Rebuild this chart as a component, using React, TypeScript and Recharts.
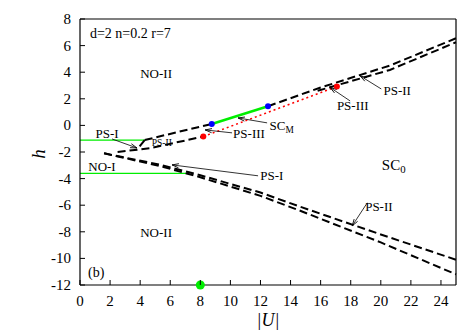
import React from 'react';
import { LineChart, Line, XAxis, YAxis, ReferenceDot, ReferenceLine } from 'recharts';

const FONT = 'Liberation Serif, Times New Roman, DejaVu Serif, serif';

// axis ticks
const xTicks = [0, 2, 4, 6, 8, 10, 12, 14, 16, 18, 20, 22, 24];
const yTicks = [-12, -10, -8, -6, -4, -2, 0, 2, 4, 6, 8];

// lower pair of boundaries
const lowerBoundaryA = [
  { x: 1.6, y: -2.1 }, { x: 5.3, y: -2.95 }, { x: 8, y: -3.75 }, { x: 12, y: -5.05 },
  { x: 14.6, y: -6.1 }, { x: 20, y: -8.2 }, { x: 25, y: -10.1 },
];
const lowerBoundaryB = [
  { x: 1.6, y: -2.1 }, { x: 5.3, y: -3.05 }, { x: 8, y: -3.9 }, { x: 12, y: -5.3 },
  { x: 14.6, y: -6.4 }, { x: 20, y: -8.8 }, { x: 25, y: -11.2 },
];

// upper pair of boundaries
const upperBoundaryA1 = [{ x: 4.3, y: -1.1 }, { x: 6.5, y: -0.5 }, { x: 8.76, y: 0.11 }];
const upperBoundaryA2 = [{ x: 12.5, y: 1.44 }, { x: 16, y: 2.85 }, { x: 20.6, y: 4.5 }, { x: 25, y: 6.55 }];
const upperBoundaryB1 = [{ x: 2.5, y: -2.0 }, { x: 4.66, y: -1.71 }, { x: 8.2, y: -0.84 }];
const upperBoundaryB2 = [{ x: 15.8, y: 2.6 }, { x: 20.6, y: 4.17 }, { x: 25, y: 6.25 }];
const upperConnector = [{ x: 4.3, y: -1.1 }, { x: 3.8, y: -1.8 }];

// SC_M segment (green) and PS-III line (red dotted)
const scmLine = [{ x: 8.76, y: 0.11 }, { x: 12.5, y: 1.44 }];
const ps3Line = [{ x: 8.2, y: -0.84 }, { x: 17.08, y: 2.92 }];

// horizontal green lines
const ps1Green = [{ x: 0, y: -1.1 }, { x: 4.3, y: -1.1 }];
const no1Green = [{ x: 0, y: -3.6 }, { x: 7.1, y: -3.6 }];

// marker on the axis
const axisMarker = { x: 8, y: -12 };

// text labels
const labels = [
  { text: 'd=2 n=0.2 r=7', x: 0.66, y: 6.6, anchor: 'start', size: 14 },
  { text: 'NO-II', x: 5.06, y: 3.57, anchor: 'middle', size: 13 },
  { text: 'NO-II', x: 5.06, y: -8.41, anchor: 'middle', size: 13 },
  { text: '(b)', x: 0.53, y: -11.38, anchor: 'start', size: 14 },
  { text: 'PS-I', x: 1.03, y: -0.98, anchor: 'start', size: 13 },
  { text: 'NO-I', x: 0.55, y: -3.45, anchor: 'start', size: 13 },
  { text: 'PS-II', x: 4.77, y: -1.58, anchor: 'start', size: 9.5 },
  { text: 'PS-I', x: 11.98, y: -4.09, anchor: 'start', size: 13 },
  { text: 'PS-III', x: 10.18, y: -0.98, anchor: 'start', size: 13 },
  { text: 'PS-III', x: 17.08, y: 1.16, anchor: 'start', size: 13 },
  { text: 'PS-II', x: 20.18, y: 2.29, anchor: 'start', size: 13 },
  { text: 'PS-II', x: 18.96, y: -6.47, anchor: 'start', size: 13 },
];
const subLabels = [
  { main: 'SC', sub: 'M', x: 12.6, y: -0.34, size: 13 },
  { main: 'SC', sub: '0', x: 20.07, y: -3.34, size: 15 },
];

// annotation arrows: from label to tip
const arrows = [
  { from: { x: 2.13, y: -1.02 }, to: { x: 3.79, y: -1.7 } },
  { from: { x: 11.84, y: -3.79 }, to: { x: 6.12, y: -2.97 } },
  { from: { x: 10.11, y: -0.56 }, to: { x: 8.32, y: -0.34 } },
  { from: { x: 12.44, y: 0.19 }, to: { x: 10.51, y: 0.56 } },
  { from: { x: 17.96, y: 1.84 }, to: { x: 16.63, y: 2.85 } },
  { from: { x: 20.03, y: 2.74 }, to: { x: 18.63, y: 3.72 } },
  { from: { x: 19.1, y: -5.82 }, to: { x: 18.1, y: -7.55 } },
];

const TICK_LEN = 5;
const textStyle = { fontFamily: FONT };

const BottomTick = (p: any) => (
  <g>
    <line x1={p.x} y1={p.y} x2={p.x} y2={p.y - TICK_LEN} stroke="#000" strokeWidth={1} />
    <text x={p.x} y={p.y + 21} textAnchor="middle" style={textStyle} fontSize={15} fill="#000">
      {p.payload.value}
    </text>
  </g>
);
const TopTick = (p: any) => (
  <line x1={p.x} y1={p.y} x2={p.x} y2={p.y + TICK_LEN} stroke="#000" strokeWidth={1} />
);
const LeftTick = (p: any) => (
  <g>
    <line x1={p.x} y1={p.y} x2={p.x + TICK_LEN} y2={p.y} stroke="#000" strokeWidth={1} />
    <text x={p.x - 9} y={p.y + 5} textAnchor="end" style={textStyle} fontSize={15} fill="#000">
      {p.payload.value}
    </text>
  </g>
);
const RightTick = (p: any) => (
  <line x1={p.x} y1={p.y} x2={p.x - TICK_LEN} y2={p.y} stroke="#000" strokeWidth={1} />
);

const ArrowShape = (p: any) => {
  const { x1, y1, x2, y2 } = p;
  const ang = Math.atan2(y2 - y1, x2 - x1);
  const L = 7;
  const a = 0.3;
  const ax1 = x2 - L * Math.cos(ang - a);
  const ay1 = y2 - L * Math.sin(ang - a);
  const ax2 = x2 - L * Math.cos(ang + a);
  const ay2 = y2 - L * Math.sin(ang + a);
  return (
    <g>
      <line x1={x1} y1={y1} x2={x2} y2={y2} stroke="#000" strokeWidth={0.8} />
      <polyline points={`${ax1},${ay1} ${x2},${y2} ${ax2},${ay2}`} fill="none" stroke="#000" strokeWidth={0.9} />
    </g>
  );
};

const dashStyle = { stroke: '#000', strokeWidth: 2, strokeDasharray: '8 4' };

export default function App() {
  return (
    <div style={{ position: 'absolute', left: 0, top: 0, background: '#fff' }}>
      <LineChart width={473} height={331} margin={{ top: 0, right: 0, bottom: 0, left: 0 }} style={textStyle}>
        <XAxis
          xAxisId={0}
          type="number"
          dataKey="x"
          domain={[0, 25]}
          ticks={xTicks}
          interval={0}
          height={46}
          tickSize={0}
          tickMargin={0}
          tickLine={false}
          tick={BottomTick}
          axisLine={{ stroke: '#000', strokeWidth: 1.2 }}
          label={{
            content: (lp: any) => {
              const vb = lp.viewBox || { x: 80, y: 285, width: 376, height: 46 };
              return (
                <text x={vb.x + vb.width / 2} y={vb.y + 41} textAnchor="middle" style={textStyle} fontStyle="italic" fontSize={18} fill="#000">
                  |U|
                </text>
              );
            },
          }}
        />
        <XAxis
          xAxisId="top"
          orientation="top"
          type="number"
          dataKey="x"
          domain={[0, 25]}
          ticks={xTicks}
          interval={0}
          height={19}
          tickSize={0}
          tickMargin={0}
          tickLine={false}
          tick={TopTick}
          axisLine={{ stroke: '#000', strokeWidth: 1.2 }}
        />
        <YAxis
          yAxisId={0}
          type="number"
          domain={[-12, 8]}
          ticks={yTicks}
          interval={0}
          width={80}
          tickSize={0}
          tickMargin={0}
          tickLine={false}
          tick={LeftTick}
          axisLine={{ stroke: '#000', strokeWidth: 1.2 }}
          label={{
            content: (lp: any) => {
              const vb = lp.viewBox || { x: 0, y: 19, width: 80, height: 266 };
              const cx = vb.x + 38;
              const cy = vb.y + vb.height / 2 + 2;
              return (
                <text x={cx} y={cy} textAnchor="middle" dominantBaseline="central" transform={`rotate(-90, ${cx}, ${cy})`} style={textStyle} fontStyle="italic" fontSize={19} fill="#000">
                  h
                </text>
              );
            },
          }}
        />
        <YAxis
          yAxisId="right"
          orientation="right"
          type="number"
          domain={[-12, 8]}
          ticks={yTicks}
          interval={0}
          width={17}
          tickSize={0}
          tickMargin={0}
          tickLine={false}
          tick={RightTick}
          axisLine={{ stroke: '#000', strokeWidth: 1.2 }}
        />

        <Line data={ps1Green} dataKey="y" type="linear" stroke="#00ee00" strokeWidth={1.3} dot={false} isAnimationActive={false} />
        <Line data={no1Green} dataKey="y" type="linear" stroke="#00ee00" strokeWidth={1.3} dot={false} isAnimationActive={false} />

        <Line data={lowerBoundaryA} dataKey="y" type="linear" {...dashStyle} dot={false} isAnimationActive={false} />
        <Line data={lowerBoundaryB} dataKey="y" type="linear" {...dashStyle} dot={false} isAnimationActive={false} />
        <Line data={upperBoundaryA1} dataKey="y" type="linear" {...dashStyle} dot={false} isAnimationActive={false} />
        <Line data={upperBoundaryA2} dataKey="y" type="linear" {...dashStyle} dot={false} isAnimationActive={false} />
        <Line data={upperBoundaryB1} dataKey="y" type="linear" {...dashStyle} dot={false} isAnimationActive={false} />
        <Line data={upperBoundaryB2} dataKey="y" type="linear" {...dashStyle} dot={false} isAnimationActive={false} />
        <Line data={upperConnector} dataKey="y" type="linear" {...dashStyle} dot={false} isAnimationActive={false} />

        <Line data={ps3Line} dataKey="y" type="linear" stroke="#ff0000" strokeWidth={1.5} strokeDasharray="2 3"
          dot={{ r: 3, fill: '#ff0000', stroke: 'none', strokeDasharray: '0' }} isAnimationActive={false} />
        <Line data={scmLine} dataKey="y" type="linear" stroke="#00ee00" strokeWidth={2.5}
          dot={{ r: 3, fill: '#0000ff', stroke: 'none' }} isAnimationActive={false} />

        {arrows.map((a, i) => (
          <ReferenceLine key={'a' + i} segment={[a.from, a.to]} shape={ArrowShape} ifOverflow="visible" />
        ))}

        {labels.map((l, i) => (
          <ReferenceDot key={'l' + i} x={l.x} y={l.y} r={0} ifOverflow="visible"
            shape={(p: any) => (
              <text x={p.cx} y={p.cy} textAnchor={l.anchor as any} style={textStyle} fontSize={l.size} fill="#000">
                {l.text}
              </text>
            )}
          />
        ))}
        {subLabels.map((l, i) => (
          <ReferenceDot key={'s' + i} x={l.x} y={l.y} r={0} ifOverflow="visible"
            shape={(p: any) => (
              <text x={p.cx} y={p.cy} style={textStyle} fontSize={l.size} fill="#000">
                {l.main}
                <tspan dy={3} fontSize={l.size * 0.72}>{l.sub}</tspan>
              </text>
            )}
          />
        ))}

        <ReferenceDot x={axisMarker.x} y={axisMarker.y} r={4.5} fill="#00ee00" stroke="none" ifOverflow="visible" />
      </LineChart>
    </div>
  );
}
